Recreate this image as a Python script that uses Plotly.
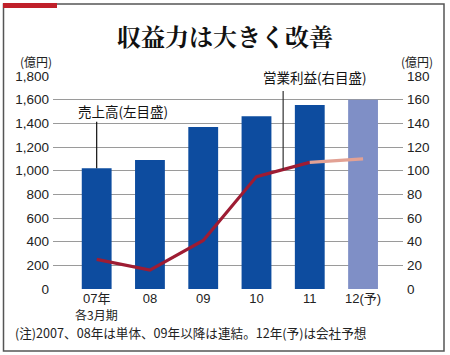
import plotly.graph_objects as go

categories = ["07年", "08", "09", "10", "11", "12(予)"]
first_sub = "各3月期"
sales = [1020, 1090, 1370, 1460, 1555, 1600]          # 売上高 (億円, left axis)
op_profit = [25, 16, 41, 95, 107, 110]                 # 営業利益 (億円, right axis)
left_ticks = [0, 200, 400, 600, 800, 1000, 1200, 1400, 1600, 1800]
left_ticklabels = ["0", "200", "400", "600", "800", "1,000", "1,200", "1,400", "1,600", "1,800"]
right_ticks = [0, 20, 40, 60, 80, 100, 120, 140, 160, 180]

W, H = 450, 355
L, R, T, B = 53, 47, 76, 66
PW, PH = W - L - R, H - T - B

def px(x):
    return (x - L) / PW

def py(y):
    return (H - B - y) / PH

NUM_FONT = "Liberation Sans, Noto Sans CJK JP, sans-serif"
JP_FONT = "Noto Sans CJK JP, sans-serif"

bar_colors = ["#0d4c9f"] * (len(sales) - 1) + ["#7f8fc6"]

fig = go.Figure()
fig.add_trace(go.Bar(x=categories, y=sales, marker_color=bar_colors,
                     marker_line_width=0, yaxis="y", showlegend=False, hoverinfo="skip"))
fig.add_trace(go.Scatter(x=categories[:-1], y=op_profit[:-1], mode="lines",
                         line=dict(color="#9e1c33", width=3.2), yaxis="y2",
                         showlegend=False, hoverinfo="skip"))
fig.add_trace(go.Scatter(x=categories[-2:], y=op_profit[-2:], mode="lines",
                         line=dict(color="#e2a194", width=3.2), yaxis="y2",
                         showlegend=False, hoverinfo="skip"))

fig.update_layout(
    width=W, height=H,
    margin=dict(l=L, r=R, t=T, b=B, autoexpand=False),
    paper_bgcolor="white", plot_bgcolor="white",
    bargap=0.44,
    font=dict(family=NUM_FONT, size=13, color="#222"),
    xaxis=dict(type="category", range=[-0.82, 5.75], showgrid=False, automargin=False,
               showline=False, ticks="", tickfont=dict(family=NUM_FONT, size=13, color="#222"),
               ticklabelstandoff=0, fixedrange=True),
    yaxis=dict(range=[0, 1800], tickvals=left_ticks, ticktext=left_ticklabels, automargin=False,
               showgrid=True, gridcolor="#9a9a9a", gridwidth=1, zeroline=False,
               showline=False, ticks="", ticklabelstandoff=3,
               tickfont=dict(family=NUM_FONT, size=13.5, color="#222")),
    yaxis2=dict(range=[0, 180], tickvals=right_ticks, overlaying="y", side="right",
                showgrid=False, zeroline=False, showline=False, ticks="", automargin=False,
                ticklabelstandoff=3,
                tickfont=dict(family=NUM_FONT, size=13.5, color="#222")),
)

shapes = [
    # outer frame
    dict(type="rect", xref="paper", yref="paper", x0=px(3.5), x1=px(444), y0=py(351), y1=py(4),
         line=dict(color="#555", width=1.5), fillcolor="rgba(0,0,0,0)", layer="below"),
    # red tab
    dict(type="rect", xref="paper", yref="paper", x0=px(3), x1=px(57), y0=py(8), y1=py(3),
         line=dict(width=0), fillcolor="#c0202a"),
]
fig.update_layout(shapes=shapes)

annotations = [
    dict(text="<b>収益力は大きく改善</b>", xref="paper", yref="paper", x=px(225), y=py(35),
         showarrow=False, font=dict(family="Noto Serif CJK JP, Noto Sans CJK JP, serif", size=24, color="#111"),
         xanchor="center", yanchor="middle"),
    dict(text="(億円)", xref="paper", yref="paper", x=px(18), y=py(62), showarrow=False,
         font=dict(family=JP_FONT, size=12, color="#222"), xanchor="left", yanchor="middle"),
    dict(text="(億円)", xref="paper", yref="paper", x=px(399), y=py(62), showarrow=False,
         font=dict(family=JP_FONT, size=12, color="#222"), xanchor="left", yanchor="middle"),
    # sub label under first category
    dict(text=first_sub, x=categories[0], xref="x", yref="paper", y=py(314.5), showarrow=False,
         font=dict(family=JP_FONT, size=12, color="#222"), xanchor="center", yanchor="middle"),
    # sales leader line
    dict(text="", x=0, y=sales[0], xref="x", yref="y", showarrow=True, arrowhead=0,
         arrowwidth=1.2, arrowcolor="#111", ax=0, ay=-48),
    dict(text="売上高(左目盛)", xref="paper", yref="paper", x=px(76), y=py(111), showarrow=False,
         font=dict(family=JP_FONT, size=13.5, color="#111"), xanchor="left", yanchor="middle"),
    # operating profit leader line
    dict(text="", x=3.5, y=(op_profit[3] + op_profit[4]) / 2, xref="x", yref="y2",
         showarrow=True, arrowhead=0, arrowwidth=1.2, arrowcolor="#333", ax=0, ay=-80),
    dict(text="営業利益(右目盛)", xref="paper", yref="paper", x=px(315), y=py(77), showarrow=False,
         font=dict(family=JP_FONT, size=13.5, color="#111"), xanchor="center", yanchor="middle",
         bgcolor="white", borderpad=3),
    dict(text="(注)2007、08年は単体、09年以降は連結。12年(予)は会社予想", xref="paper", yref="paper",
         x=px(13), y=py(332), showarrow=False,
         font=dict(family=JP_FONT, size=12.6, color="#222"), xanchor="left", yanchor="middle"),
]
fig.update_layout(annotations=annotations)

fig.write_html("out.html", config={"displayModeBar": False, "staticPlot": True},
               post_script="document.body.style.margin='0';document.body.style.padding='0';")
